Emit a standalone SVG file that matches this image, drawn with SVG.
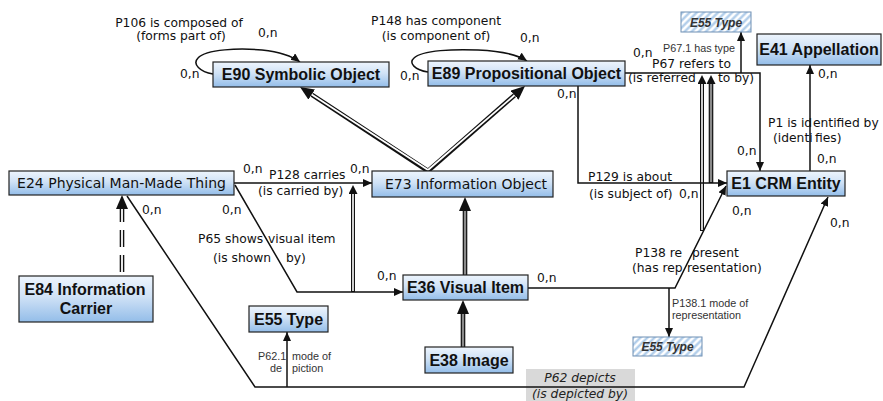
<svg xmlns="http://www.w3.org/2000/svg" width="883" height="401" viewBox="0 0 883 401">
<defs>
  <linearGradient id="nodeFill" x1="0" y1="0" x2="0" y2="1">
    <stop offset="0" stop-color="#eef5fd"/>
    <stop offset="0.45" stop-color="#d0e2f6"/>
    <stop offset="1" stop-color="#93bde9"/>
  </linearGradient>
  <pattern id="hatch" patternUnits="userSpaceOnUse" width="5" height="5" patternTransform="rotate(45)">
    <rect width="5" height="5" fill="#ffffff"/>
    <line x1="1.5" y1="0" x2="1.5" y2="5" stroke="#a9c8e8" stroke-width="2.2"/>
  </pattern>
  <marker id="arr" markerUnits="userSpaceOnUse" markerWidth="10" markerHeight="9" refX="9" refY="4" orient="auto">
    <path d="M0,0 L9,4 L0,8 z" fill="#111"/>
  </marker>
  <marker id="tri" markerUnits="userSpaceOnUse" markerWidth="15" markerHeight="13" refX="0" refY="6" orient="auto">
    <path d="M0,0 L14,6 L0,12 z" fill="#111"/>
  </marker>
  <marker id="tri2" markerUnits="userSpaceOnUse" markerWidth="10" markerHeight="10" refX="0" refY="4.5" orient="auto">
    <path d="M0,0 L9,4.5 L0,9 z" fill="#111"/>
  </marker>
</defs>
<style>
  .node rect.n { fill: url(#nodeFill); stroke: #222; stroke-width: 1.2; }
  .node rect.h { fill: url(#hatch); stroke: #6f8fb3; stroke-width: 1; }
  .nb { font-family: "Liberation Sans", Arial, sans-serif; font-weight: bold; font-size: 16px; text-anchor: middle; fill: #111; }
  .nr { font-family: "DejaVu Sans", Verdana, sans-serif; font-size: 14px; text-anchor: middle; fill: #111; }
  .nh { font-family: "Liberation Sans", Arial, sans-serif; font-weight: bold; font-style: italic; font-size: 12px; text-anchor: middle; fill: #333; }
  .lbl { font-family: "DejaVu Sans", Verdana, sans-serif; font-size: 12.3px; fill: #111; }
  .mid { text-anchor: middle; }
  .sm { font-family: "Liberation Sans", Arial, sans-serif; font-size: 10.8px; fill: #333; }
  .it { font-family: "DejaVu Sans", Verdana, sans-serif; font-style: italic; font-size: 12.3px; fill: #222; text-anchor: middle; }
  .prop { fill: none; stroke: #111; stroke-width: 1.5; marker-end: url(#arr); }
  .dblo { fill: none; stroke: #111; stroke-width: 4.6; }
  .dbli { fill: none; stroke: #fff; stroke-width: 1.8; }
  .dblg { fill: none; stroke: #8a8a8a; stroke-width: 2.2; }
  .inh { marker-end: url(#tri); }
  .sub { marker-end: url(#tri2); }
  .dash { stroke-dasharray: 17 8; }
</style>

<g id="connectors">
  <!-- self loops -->
  <path class="prop" d="M213,74 C200,72 192,64 198,58 C206,49 240,48 262,50 C280,52 292,56 300,62"/>
  <path class="prop" d="M428,72 C415,70 408,63 414,58 C422,50 455,49 478,50 C500,51 518,55 527,61"/>

  <!-- inheritance double lines -->
  <path class="dblo inh" d="M428,171 L311.7,94.6"/>
  <path class="dblo inh" d="M428,171 L514.5,95.2"/>
  <path class="dbli" d="M428,170 L311.7,94.6"/>
  <path class="dbli" d="M428,170 L514.5,95.2"/>

  <path class="dblo inh" d="M465,275 L465,211"/>
  <path class="dblg" d="M465,275 L465,211"/>

  <path class="dblo inh" d="M463,347 L463,314"/>
  <path class="dblg" d="M463,347 L463,314"/>

  <path class="dblo inh dash" d="M122,276 L122,209" style="stroke-dashoffset:-4"/>
  <path class="dbli dash" d="M122,276 L122,209" style="stroke-dashoffset:-4"/>

  <!-- sub-property double lines -->
  <path class="dblo sub" d="M353,292 L353,194" style="stroke-width:4"/>
  <path class="dbli" d="M353,291 L353,194" style="stroke-width:1.6"/>

  <path class="dblo sub" d="M702,231 L702,84" style="stroke-width:4"/>
  <path class="dbli" d="M702,230 L702,84" style="stroke-width:1.6"/>

  <path class="dblo sub" d="M711,183 L711,84" style="stroke-width:4.6"/>
  <path class="dblg" d="M711,182 L711,84"/>

  <!-- properties -->
  <path class="prop" d="M234,183 L372,183"/>
  <path class="prop" d="M235,185 L297,292 L403,292"/>
  <path class="prop" d="M127,196 L255,387 L744,387 L828,197"/>
  <path class="prop" d="M287,387 L287,332"/>
  <path class="prop" d="M578,86 L578,183 L727,183"/>
  <path class="prop" d="M625,73 L760,73 L760,171"/>
  <path class="prop" d="M741,73 L741,32"/>
  <path class="prop" d="M528,288 L675,288 L726,186"/>
  <path class="prop" d="M669,288 L669,337"/>
  <path class="prop" d="M810,171 L810,65"/>

  <!-- labels -->
  <text class="lbl mid" x="179" y="27">P106 is composed of</text>
  <text class="lbl mid" x="181" y="40">(forms part of)</text>
  <text class="lbl" x="258" y="37">0,n</text>
  <text class="lbl" x="180" y="78">0,n</text>

  <text class="lbl mid" x="436" y="25">P148 has component</text>
  <text class="lbl mid" x="436" y="40">(is component of)</text>
  <text class="lbl" x="520" y="42">0,n</text>
  <text class="lbl" x="400" y="80">0,n</text>

  <text class="lbl" x="557" y="98">0,n</text>
  <text class="lbl" x="588" y="181">P129 is about</text>
  <text class="lbl" x="589" y="198">(is subject of)</text>
  <text class="lbl" x="679" y="198">0,n</text>

  <text class="lbl" x="633" y="57">0,n</text>
  <text class="lbl" x="652" y="68">P67 refers to</text>
  <text class="lbl" y="82"><tspan x="628">(is referred</tspan><tspan x="718">to by)</tspan></text>
  <text class="lbl" x="737" y="155">0,n</text>
  <text class="sm" x="663" y="52">P67.1 has type</text>

  <text class="lbl" x="818" y="78">0,n</text>
  <text class="lbl" y="127"><tspan x="768">P1 is id</tspan><tspan x="813">entified by</tspan></text>
  <text class="lbl" y="142"><tspan x="773">(identi</tspan><tspan x="815">fies)</tspan></text>
  <text class="lbl" x="817" y="163">0,n</text>

  <text class="lbl" x="732" y="215">0,n</text>
  <text class="lbl" x="830" y="227">0,n</text>
  <text class="lbl" y="257"><tspan x="635">P138 re</tspan><tspan x="692">present</tspan></text>
  <text class="lbl" y="272"><tspan x="632">(has rep</tspan><tspan x="687">resentation)</tspan></text>
  <text class="lbl" x="537" y="282">0,n</text>
  <text class="sm" x="672" y="307">P138.1 mode of</text>
  <text class="sm" x="672" y="319">representation</text>

  <text class="lbl" x="243" y="173">0,n</text>
  <text class="lbl" x="269" y="179">P128 carries</text>
  <text class="lbl" x="258" y="195">(is carried by)</text>
  <text class="lbl" x="350" y="173">0,n</text>

  <text class="lbl" x="222" y="214">0,n</text>
  <text class="lbl" x="142" y="214">0,n</text>
  <text class="lbl" y="243"><tspan x="198">P65 shows</tspan><tspan x="268">visual item</tspan></text>
  <text class="lbl" y="262"><tspan x="213">(is shown</tspan><tspan x="286">by)</tspan></text>
  <text class="lbl" x="377" y="280">0,n</text>

  <text class="sm" y="360"><tspan x="258">P62.1</tspan><tspan x="292">mode of</tspan></text>
  <text class="sm" y="372"><tspan x="270">de</tspan><tspan x="292">piction</tspan></text>

  <rect x="526" y="369" width="109" height="32" fill="#d9d9d9"/>
  <path d="M526,387 L635,387" stroke="#111" stroke-width="1.5"/>
  <text class="it" x="580" y="382">P62 depicts</text>
  <text class="it" x="580" y="398">(is depicted by)</text>
</g>

<g id="E90" class="node">
  <rect class="n" x="213" y="62" width="176" height="25"/>
  <text class="nb" x="301" y="80">E90 Symbolic Object</text>
</g>
<g id="E89" class="node">
  <rect class="n" x="428" y="61" width="197" height="25"/>
  <text class="nb" x="526.5" y="79">E89 Propositional Object</text>
</g>
<g id="E55_top" class="node">
  <rect class="h" x="681" y="12" width="70" height="20"/>
  <text class="nh" x="716" y="26.5">E55 Type</text>
</g>
<g id="E41" class="node">
  <rect class="n" x="757" y="34" width="124" height="31"/>
  <text class="nb" x="819" y="55">E41 Appellation</text>
</g>
<g id="E24" class="node">
  <rect class="n" x="9" y="171" width="225" height="24"/>
  <text class="nr" x="121.5" y="188">E24 Physical Man-Made Thing</text>
</g>
<g id="E73" class="node">
  <rect class="n" x="372" y="171" width="181" height="26"/>
  <text class="nr" x="466" y="189">E73 Information Object</text>
</g>
<g id="E1" class="node">
  <rect class="n" x="727" y="171" width="118" height="25"/>
  <text class="nb" x="786" y="189">E1 CRM Entity</text>
</g>
<g id="E36" class="node">
  <rect class="n" x="403" y="275" width="125" height="25"/>
  <text class="nb" x="465.5" y="293">E36 Visual Item</text>
</g>
<g id="E84" class="node">
  <rect class="n" x="19" y="276" width="134" height="46"/>
  <text class="nb" x="85" y="295">E84 Information</text>
  <text class="nb" x="86" y="314">Carrier</text>
</g>
<g id="E55_left" class="node">
  <rect class="n" x="249" y="306" width="79" height="26"/>
  <text class="nb" x="288.5" y="325">E55 Type</text>
</g>
<g id="E38" class="node">
  <rect class="n" x="425" y="347" width="88" height="26"/>
  <text class="nb" x="469" y="366">E38 Image</text>
</g>
<g id="E55_bottom" class="node">
  <rect class="h" x="633" y="337" width="69" height="19"/>
  <text class="nh" x="667.5" y="351">E55 Type</text>
</g>
</svg>
